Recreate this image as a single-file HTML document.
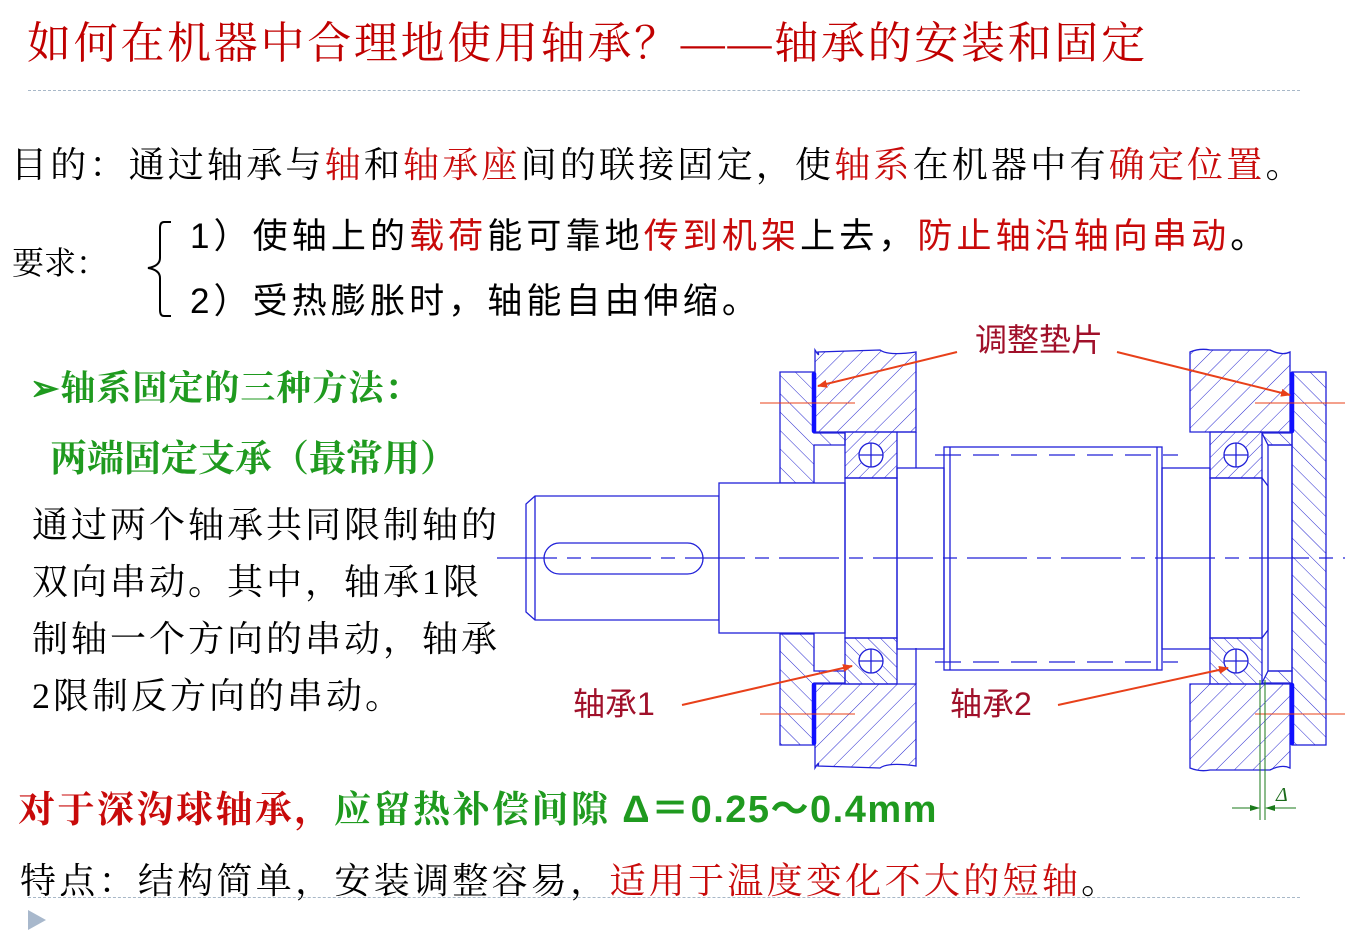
<!DOCTYPE html>
<html><head><meta charset="utf-8"><style>
html,body{margin:0;padding:0;background:#fff;}
body{width:1345px;height:929px;position:relative;overflow:hidden;font-family:"Liberation Serif","Noto Serif CJK SC",serif;color:#000;}
.t{position:absolute;white-space:nowrap;line-height:1;}
.r{color:#c80a0a}
.g{color:#1f9a1f}
.s{font-family:"Liberation Sans","Noto Sans CJK SC",sans-serif;}
</style></head><body>
<div class="t" style="left:27px;top:22px;font-size:44px;letter-spacing:2.7px;color:#c00000;">如何在机器中合理地使用轴承？——轴承的安装和固定</div>
<div style="position:absolute;left:28px;top:90px;width:1272px;border-top:1.5px dashed #a8b8c8;"></div>
<div class="t" style="left:11px;top:147px;font-size:36px;letter-spacing:3.2px;">目的：通过轴承与<span class="r">轴</span>和<span class="r">轴承座</span>间的联接固定，使<span class="r">轴系</span>在机器中有<span class="r">确定位置</span>。</div>
<div class="t" style="left:12px;top:247px;font-size:32px;">要求：</div>
<svg style="position:absolute;left:140px;top:218px" width="40" height="104"><path d="M31,4 H24 Q20,4 20,10 V40 Q20,48 8,50 Q20,52 20,60 V92 Q20,98 24,98 H31" fill="none" stroke="#000" stroke-width="2"/></svg>
<div class="t s" style="left:190px;top:219px;font-size:35px;letter-spacing:4.1px;">1）使轴上的<span class="r">载荷</span>能可靠地<span class="r">传到机架</span>上去，<span class="r">防止轴沿轴向串动</span>。</div>
<div class="t s" style="left:190px;top:284px;font-size:35px;letter-spacing:4.1px;">2）受热膨胀时，轴能自由伸缩。</div>
<div class="t g" style="left:30px;top:371px;font-size:35px;font-weight:bold;letter-spacing:1px;">➢轴系固定的三种方法：</div>
<div class="t g" style="left:50px;top:441px;font-size:37px;font-weight:bold;">两端固定支承（最常用）</div>
<div class="t" style="left:32px;top:497px;font-size:36px;letter-spacing:3px;line-height:57px;white-space:normal;width:480px;">通过两个轴承共同限制轴的<br>双向串动。其中，轴承1限<br>制轴一个方向的串动，轴承<br>2限制反方向的串动。</div>
<div class="t" style="left:18px;top:791px;font-size:37px;font-weight:bold;letter-spacing:2.5px;"><span class="r">对于深沟球轴承，</span><span class="g">应留热补偿间隙 <span class="s" style="font-size:38px;letter-spacing:1.5px;">Δ＝0.25～0.4mm</span></span></div>
<div class="t" style="left:20px;top:863px;font-size:36px;letter-spacing:3.3px;">特点：结构简单，安装调整容易，<span class="r">适用于温度变化不大的短轴</span>。</div>
<div style="position:absolute;left:28px;top:897px;width:1272px;border-top:1.5px dashed #a8b8c8;"></div>
<svg style="position:absolute;left:26px;top:908px" width="22" height="22"><polygon points="2,2 20,12 2,22" fill="#a8b8cc"/></svg>

<svg style="position:absolute;left:0;top:0" width="1345" height="929">
<defs>
<pattern id="h1" patternUnits="userSpaceOnUse" width="13" height="13" patternTransform="rotate(-45)"><line x1="0" y1="0" x2="0" y2="13" stroke="#2828d0" stroke-width="1"/></pattern>
<pattern id="h2" patternUnits="userSpaceOnUse" width="13" height="13" patternTransform="rotate(45)"><line x1="0" y1="0" x2="0" y2="13" stroke="#2828d0" stroke-width="1"/></pattern>
<pattern id="h3" patternUnits="userSpaceOnUse" width="9" height="9" patternTransform="rotate(45)"><line x1="0" y1="0" x2="0" y2="9" stroke="#2828d0" stroke-width="1"/></pattern>
<pattern id="h4" patternUnits="userSpaceOnUse" width="9" height="9" patternTransform="rotate(-45)"><line x1="0" y1="0" x2="0" y2="9" stroke="#2828d0" stroke-width="1"/></pattern>
<marker id="ar" markerWidth="10" markerHeight="8" refX="9" refY="4" orient="auto" markerUnits="userSpaceOnUse"><path d="M0,0 L10,4 L0,8 Z" fill="#e8401a"/></marker>
<marker id="ga" markerWidth="10" markerHeight="6" refX="9" refY="3" orient="auto" markerUnits="userSpaceOnUse"><path d="M0,0 L10,3 L0,6 Z" fill="#1a7a1a"/></marker>
</defs>
<g stroke="#2020d8" stroke-width="1.3" fill="none">
<polygon points="780,372 814,372 814,433 845,433 845,445 814,445 814,483 780,483" fill="url(#h1)"/>
<polygon points="780,745 814,745 814,683 845,683 845,671 814,671 814,634 780,634" fill="url(#h1)"/>
<path d="M815,350 Q820,358 818,352 L880,350 Q888,356 916,352 V432 H815 Z" fill="url(#h2)"/>
<path d="M815,768 Q820,760 818,766 L880,768 Q888,762 916,766 V684 H815 Z" fill="url(#h2)"/>
<line x1="897" y1="432" x2="916" y2="432"/><line x1="916" y1="432" x2="916" y2="468"/>
<line x1="916" y1="684" x2="916" y2="648"/>
<rect x="845" y="432" width="52" height="46" fill="url(#h3)"/>
<rect x="845" y="638" width="52" height="46" fill="url(#h4)"/>
<rect x="1210" y="432" width="52" height="46" fill="url(#h3)"/>
<rect x="1210" y="638" width="52" height="46" fill="url(#h4)"/>
<g fill="#fff">
<circle cx="871" cy="455" r="12"/><circle cx="871" cy="661" r="12"/>
<circle cx="1236" cy="455" r="12"/><circle cx="1236" cy="661" r="12"/>
</g>
<path d="M859,455 H883 M871,443 V467 M859,661 H883 M871,649 V673 M1224,455 H1248 M1236,443 V467 M1224,661 H1248 M1236,649 V673"/>
<path d="M535,496 H719 V620 H535 L526,612 V504 Z" fill="#fff"/>
<line x1="535" y1="496" x2="535" y2="620"/>
<rect x="544" y="543" width="159" height="31" rx="15.5"/>
<rect x="719" y="483" width="126" height="150" fill="#fff"/>
<rect x="845" y="478" width="52" height="160"/>
<rect x="897" y="468" width="47" height="181"/>
<rect x="944" y="447" width="218" height="223"/>
<line x1="950" y1="447" x2="950" y2="670"/><line x1="1157" y1="447" x2="1157" y2="670"/>
<rect x="1162" y="468" width="48" height="181"/>
<rect x="1210" y="478" width="52" height="160"/>
<path d="M1262,478 L1268,486 V630 L1262,638"/>
<path d="M935,455 H1178 M935,662 H1178" stroke-dasharray="26,12"/>
<path d="M1190,352 Q1200,348 1210,350 L1270,350 Q1282,356 1290,352 V432 H1190 Z" fill="url(#h2)"/>
<path d="M1190,768 Q1200,772 1210,770 L1270,770 Q1282,764 1290,768 V684 H1190 Z" fill="url(#h2)"/>
<rect x="1292" y="372" width="34" height="373" fill="url(#h1)"/>
<polygon points="1262,433 1292,433 1292,445 1268,445" fill="url(#h1)"/>
<polygon points="1262,683 1292,683 1292,671 1268,671" fill="url(#h1)"/>
<rect x="1268" y="445" width="24" height="226"/>
<line x1="497" y1="558" x2="1345" y2="558" stroke-dasharray="60,10,14,10"/>
</g>
<g stroke="#1010ff" stroke-width="4.5" stroke-linecap="round">
<line x1="814" y1="374" x2="814" y2="431"/><line x1="814" y1="685" x2="814" y2="743"/>
<line x1="1292" y1="374" x2="1292" y2="431"/><line x1="1292" y1="685" x2="1292" y2="743"/>
</g>
<g stroke="#e8401a" stroke-width="1">
<line x1="760" y1="403" x2="855" y2="403"/><line x1="1255" y1="403" x2="1345" y2="403"/>
<line x1="760" y1="714" x2="855" y2="714"/><line x1="1255" y1="714" x2="1345" y2="714"/>
</g>
<g stroke="#e8401a" stroke-width="2" fill="none">
<line x1="957" y1="352" x2="818" y2="386" marker-end="url(#ar)"/>
<line x1="1117" y1="352" x2="1290" y2="395" marker-end="url(#ar)"/>
<line x1="682" y1="705" x2="852" y2="666" marker-end="url(#ar)"/>
<line x1="1058" y1="705" x2="1228" y2="668" marker-end="url(#ar)"/>
</g>
<g stroke="#1a7a1a" stroke-width="1">
<line x1="1260" y1="680" x2="1260" y2="820"/><line x1="1265" y1="680" x2="1265" y2="820"/>
<line x1="1232" y1="808" x2="1259" y2="808" marker-end="url(#ga)"/>
<line x1="1296" y1="808" x2="1266" y2="808" marker-end="url(#ga)"/>
</g>
<text x="1276" y="801" font-size="20" font-family="Liberation Serif,serif" font-style="italic" fill="#1a6a1a">Δ</text>
<g font-family="Liberation Sans,Noto Sans CJK SC,sans-serif" font-size="32" fill="#a0102a">
<text x="975" y="351">调整垫片</text>
<text x="573" y="715">轴承1</text>
<text x="950" y="715">轴承2</text>
</g>
</svg>
</body></html>
